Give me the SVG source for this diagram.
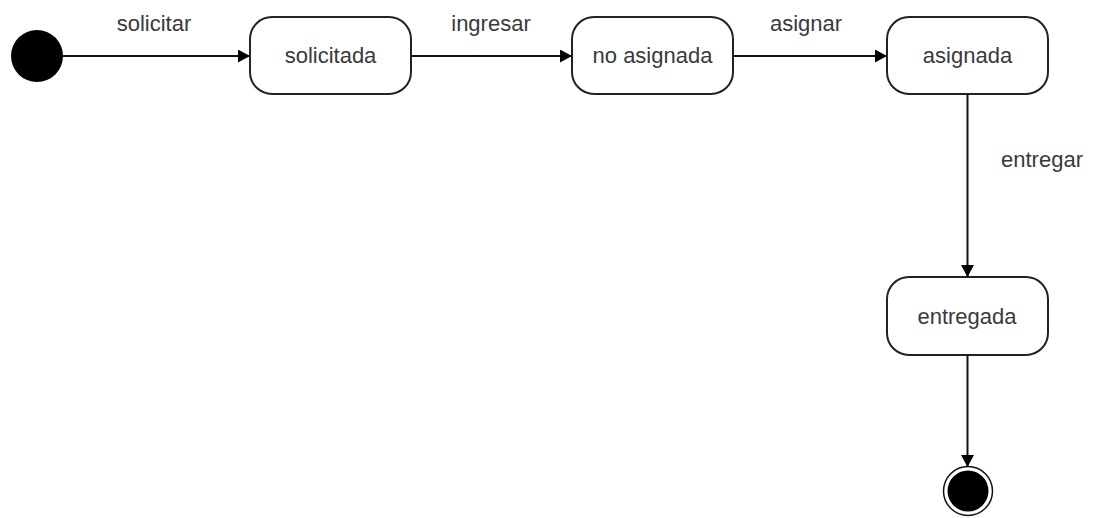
<svg xmlns="http://www.w3.org/2000/svg" width="1099" height="518" viewBox="0 0 1099 518">
<defs>
<marker id="arr" markerWidth="13" markerHeight="13" refX="12" refY="6.5" orient="auto" markerUnits="userSpaceOnUse">
<path d="M0,0 L12,6.5 L0,13 Z" fill="#000"/>
</marker>
<style>
.st{fill:#fff;stroke:#222;stroke-width:2}
.lbl{font-family:"Liberation Sans",Arial,sans-serif;font-size:22px;fill:#3a3a3a;text-anchor:middle}
.ln{stroke:#111;stroke-width:2;fill:none}
</style>
</defs>
<rect width="1099" height="518" fill="#fff"/>
<g id="initial"><circle cx="37" cy="56" r="26" fill="#000"/></g>
<g id="solicitada"><rect class="st" x="250" y="17" width="161" height="77" rx="22"/><text class="lbl" x="330.5" y="63">solicitada</text></g>
<g id="no_asignada"><rect class="st" x="572" y="17" width="161" height="77" rx="22"/><text class="lbl" x="652.5" y="63">no asignada</text></g>
<g id="asignada"><rect class="st" x="887" y="17" width="161" height="77" rx="22"/><text class="lbl" x="967.5" y="63">asignada</text></g>
<g id="entregada"><rect class="st" x="887" y="277" width="161" height="78" rx="22"/><text class="lbl" x="967" y="324">entregada</text></g>
<g id="final"><circle cx="968" cy="491" r="24.5" fill="#fff" stroke="#111" stroke-width="1.5"/><circle cx="968" cy="491" r="20.5" fill="#000"/></g>
<g id="connectors">
<line class="ln" x1="63" y1="56" x2="250" y2="56" marker-end="url(#arr)"/>
<line class="ln" x1="411" y1="56" x2="572" y2="56" marker-end="url(#arr)"/>
<line class="ln" x1="733" y1="56" x2="887" y2="56" marker-end="url(#arr)"/>
<line class="ln" x1="967.5" y1="94" x2="967.5" y2="277" marker-end="url(#arr)"/>
<line class="ln" x1="967.5" y1="355" x2="967.5" y2="467" marker-end="url(#arr)"/>
<text class="lbl" x="154" y="31">solicitar</text>
<text class="lbl" x="491" y="31">ingresar</text>
<text class="lbl" x="806" y="31">asignar</text>
<text class="lbl" x="1042" y="167">entregar</text>
</g>
</svg>
